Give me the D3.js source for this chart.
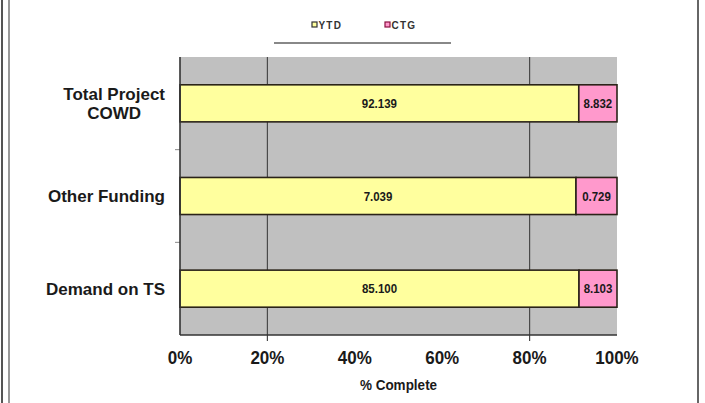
<!DOCTYPE html>
<html>
<head>
<meta charset="utf-8">
<script src="https://cdn.jsdelivr.net/npm/d3@7"></script>
<style>
  html, body { margin: 0; padding: 0; background: #fff; }
  svg { display: block; font-family: "Liberation Sans", Arial, sans-serif; }
</style>
</head>
<body>
<svg id="chart" width="705" height="403"></svg>
<script>
// Project funding progress: year-to-date vs cost-to-go, shown as % complete
const categories = [["Total Project", "COWD"], ["Other Funding"], ["Demand on TS"]];
const ytd = [92.139, 7.039, 85.100];
const ctg = [8.832, 0.729, 8.103];
const seriesNames = ["YTD", "CTG"];
const tickValues = [0, 20, 40, 60, 80, 100];
const gridValues = [20, 80];
const axisTitle = "% Complete";

const colors = { YTD: "#ffff9e", CTG: "#ff99cc" };
const frame = { left: 180, right: 617, top: 57, bottom: 335 };

const svg = d3.select("#chart");

// outer frame lines
svg.append("line").attr("x1", 2).attr("x2", 2).attr("y1", 0).attr("y2", 403)
  .attr("stroke", "#555").attr("stroke-width", 2);
svg.append("line").attr("x1", 9).attr("x2", 9).attr("y1", 0).attr("y2", 403)
  .attr("stroke", "#777").attr("stroke-width", 1.5);
svg.append("line").attr("x1", 698).attr("x2", 698).attr("y1", 0).attr("y2", 403)
  .attr("stroke", "#666").attr("stroke-width", 2);

const x = d3.scaleLinear().domain([0, 100]).range([frame.left, frame.right]);
const y = d3.scaleBand().domain(d3.range(categories.length))
  .range([frame.top, frame.bottom]).paddingInner(0.6).paddingOuter(0.3);

// stacked shares in percent
const rows = categories.map((c, i) => {
  const total = ytd[i] + ctg[i];
  const pY = ytd[i] / total * 100;
  return { i, segs: [
    { key: seriesNames[0], x0: 0, x1: pY, value: ytd[i] },
    { key: seriesNames[1], x0: pY, x1: 100, value: ctg[i] }
  ]};
});

// plot background
svg.append("rect").attr("x", x(0)).attr("y", frame.top)
  .attr("width", x(100) - x(0)).attr("height", frame.bottom - frame.top)
  .attr("fill", "#c0c0c0");

// vertical gridlines, extending below as tick marks
svg.selectAll(".grid").data(gridValues).join("line")
  .attr("x1", d => x(d)).attr("x2", d => x(d))
  .attr("y1", frame.top).attr("y2", frame.bottom + 6)
  .attr("stroke", "#4a4a4a").attr("stroke-width", 1.2);

// category boundary ticks on the left axis
const boundaries = d3.range(1, categories.length).map(k => frame.top + k * (frame.bottom - frame.top) / categories.length);
svg.selectAll(".ytick").data(boundaries).join("line")
  .attr("x1", frame.left - 5).attr("x2", frame.left)
  .attr("y1", d => d).attr("y2", d => d)
  .attr("stroke", "#888").attr("stroke-width", 1);

// bars
const g = svg.selectAll(".row").data(rows).join("g");
g.selectAll("rect").data(r => r.segs.map(s => ({ ...s, i: r.i }))).join("rect")
  .attr("x", d => x(d.x0)).attr("width", d => x(d.x1) - x(d.x0))
  .attr("y", d => y(d.i)).attr("height", y.bandwidth())
  .attr("fill", d => colors[d.key])
  .attr("stroke", "#2a2318").attr("stroke-width", 1.6);

// value labels centered in each segment (slightly tall glyphs)
g.selectAll("text").data(r => r.segs.map(s => ({ ...s, i: r.i }))).join("text")
  .attr("transform", d => `translate(${(x(d.x0) + x(d.x1)) / 2},${y(d.i) + y.bandwidth() / 2}) scale(1,1.12)`)
  .attr("dy", "0.36em")
  .attr("text-anchor", "middle")
  .attr("font-size", 11.5).attr("font-weight", "bold").attr("fill", "#1a1a1a")
  .text(d => d.value.toFixed(3));

// axis lines
svg.append("line").attr("x1", frame.left).attr("x2", frame.left)
  .attr("y1", frame.top).attr("y2", frame.bottom)
  .attr("stroke", "#333").attr("stroke-width", 1.6);
svg.append("line").attr("x1", frame.left).attr("x2", frame.right)
  .attr("y1", frame.bottom).attr("y2", frame.bottom)
  .attr("stroke", "#333").attr("stroke-width", 1.6);

// x tick labels
svg.selectAll(".xlab").data(tickValues).join("text")
  .attr("transform", d => `translate(${x(d)},364) scale(1,1.1)`)
  .attr("text-anchor", "middle")
  .attr("font-size", 17).attr("font-weight", "bold").attr("fill", "#1a1a1a")
  .text(d => d + "%");

svg.append("text").attr("transform", `translate(${x(50)},390) scale(1,1.1)`)
  .attr("text-anchor", "middle")
  .attr("font-size", 13.5).attr("font-weight", "bold").attr("fill", "#1a1a1a")
  .text(axisTitle);

// category labels, right-aligned block with centered lines
const lineH = 19.5;
categories.forEach((lines, i) => {
  const cy = y(i) + y.bandwidth() / 2;
  const t = svg.append("text")
    .attr("font-size", 17).attr("font-weight", "bold").attr("fill", "#1a1a1a")
    .attr("text-anchor", "middle");
  const spans = lines.map((ln, k) => t.append("tspan")
    .attr("dy", k === 0 ? ((-(lines.length - 1) / 2) * lineH) + 6 : lineH)
    .text(ln));
  const w = d3.max(spans, s => s.node().getComputedTextLength());
  const cx = 165 - w / 2;
  spans.forEach(s => s.attr("x", cx));
  t.attr("y", cy);
});

// legend
const legend = [{ key: seriesNames[0], x: 312, stroke: "#333" }, { key: seriesNames[1], x: 385, stroke: "#8a1040" }];
const lg = svg.selectAll(".leg").data(legend).join("g");
lg.append("rect").attr("x", d => d.x).attr("y", 22).attr("width", 5).attr("height", 5)
  .attr("fill", d => colors[d.key]).attr("stroke", d => d.stroke).attr("stroke-width", 1.2);
lg.append("text").attr("x", d => d.x + 6.5).attr("y", 28.5)
  .attr("font-size", 10).attr("font-weight", "bold").attr("fill", "#333")
  .attr("letter-spacing", 1.2)
  .text(d => d.key);
svg.append("line").attr("x1", 274).attr("x2", 451).attr("y1", 43).attr("y2", 43)
  .attr("stroke", "#888").attr("stroke-width", 2);
</script>
</body>
</html>
